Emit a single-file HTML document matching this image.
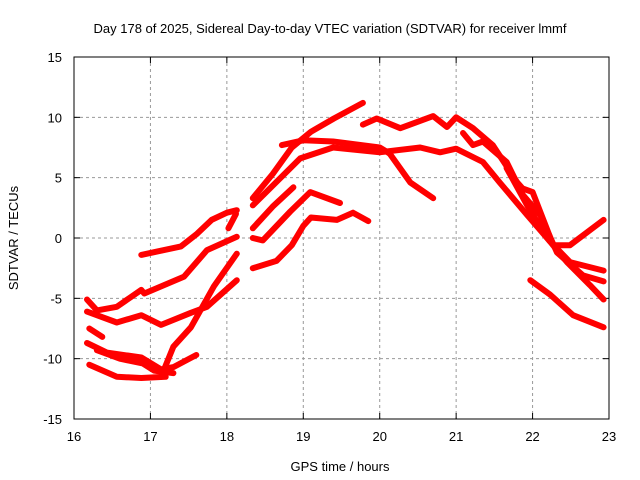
<!DOCTYPE html>
<html><head><meta charset="utf-8"><style>
body{margin:0;background:#fff}
svg{display:block;font-family:"Liberation Sans",sans-serif}
</style></head><body>
<svg id="chart" width="640" height="480" viewBox="0 0 640 480" xmlns="http://www.w3.org/2000/svg">
<rect width="640" height="480" fill="#fff"/>
<text x="330" y="33" font-size="13" text-anchor="middle">Day 178 of 2025, Sidereal Day-to-day VTEC variation (SDTVAR) for receiver lmmf</text>
<text transform="translate(18,238) rotate(-90)" font-size="13" text-anchor="middle">SDTVAR / TECUs</text>
<text x="340" y="471" font-size="13" text-anchor="middle">GPS time / hours</text>
<g id="grid"></g><g id="ticks"></g><g id="series"></g>
<rect x="74" y="57" width="535" height="362" fill="none" stroke="#000" stroke-width="1"/>
</svg>
<script>
const xTicks=[16,17,18,19,20,21,22,23];
const yTicks=[-15,-10,-5,0,5,10,15];
const s1=[[16.88,-1.4],[17.1,-1.1],[17.4,-0.7],[17.6,0.3],[17.8,1.5],[18.0,2.1],[18.13,2.3]];
const s1b=[[18.02,0.8],[18.12,2.0]];
const s2=[[16.17,-5.1],[16.3,-6.0],[16.56,-5.7],[16.88,-4.3],[16.92,-4.6],[17.44,-3.2],[17.74,-1.0],[18.13,0.1]];
const s3=[[16.17,-6.1],[16.56,-7.0],[16.88,-6.4],[17.14,-7.2],[17.53,-6.2],[17.74,-5.7],[18.13,-3.5]];
const s4=[[16.2,-7.5],[16.37,-8.2]];
const s5=[[16.17,-8.7],[16.43,-9.5],[16.88,-9.9],[17.14,-10.9],[17.3,-10.7],[17.6,-9.7]];
const s5b=[[16.3,-9.3],[16.6,-10.0],[16.9,-10.4],[17.05,-11.0],[17.3,-11.2]];
const s6=[[16.2,-10.5],[16.56,-11.5],[16.88,-11.6],[17.2,-11.5]];
const s7=[[17.14,-11.5],[17.3,-9.0],[17.53,-7.4],[17.83,-4.0],[18.13,-1.3]];
const m1=[[18.34,3.3],[18.6,5.3],[18.85,7.5],[19.1,8.8],[19.4,9.9],[19.78,11.2]];
const m1b=[[18.72,7.7],[19.0,8.1],[19.39,8.0],[20.0,7.5],[20.13,7.0]];
const m2=[[18.34,2.7],[18.96,6.6],[19.39,7.5],[20.0,7.1],[20.53,7.5],[20.79,7.1],[21.0,7.4],[21.35,6.3],[21.57,4.6],[21.93,1.9],[22.23,-0.3],[22.49,-2.0],[22.93,-2.7]];
const m2d=[[20.13,7.0],[20.4,4.6],[20.7,3.3]];
const m3a=[[18.34,0.8],[18.6,2.6],[18.87,4.2]];
const m3b=[[18.34,0.0],[18.47,-0.2],[18.83,2.2],[19.09,3.8],[19.48,2.9]];
const m4=[[18.34,-2.5],[18.65,-1.9],[18.85,-0.6],[19.0,1.0],[19.1,1.7],[19.44,1.5],[19.65,2.1],[19.85,1.4]];
const r1=[[19.78,9.4],[19.96,9.9],[20.27,9.1],[20.7,10.1],[20.88,9.2],[21.0,10.0],[21.22,9.1],[21.48,7.7],[21.8,4.6],[21.87,4.1],[22.0,3.8],[22.27,-0.6],[22.49,-0.6],[22.93,1.5]];
const r3=[[21.09,8.7],[21.22,7.7],[21.35,8.0],[21.66,6.3],[21.87,3.6],[22.1,1.9],[22.32,-1.2],[22.66,-3.1],[22.93,-3.6]];
const r4=[[21.66,5.8],[21.93,2.7],[22.19,0.0],[22.45,-2.0],[22.75,-3.9],[22.93,-5.1]];
const r5=[[21.97,-3.5],[22.23,-4.7],[22.53,-6.4],[22.93,-7.4]];
const seriesList=[s1,s1b,s2,s3,s4,s5,s5b,s6,s7,m1,m1b,m2,m2d,m3a,m3b,m4,r1,r3,r4,r5];
const X0=74,X1=609,Y0=419,Y1=57;
const xs=h=>X0+(h-16)/7*(X1-X0);
const ys=v=>Y0-(v+15)/30*(Y0-Y1);
const NS="http://www.w3.org/2000/svg";
const grid=document.getElementById('grid'),ticks=document.getElementById('ticks'),ser=document.getElementById('series');
function mk(t,a,p){const e=document.createElementNS(NS,t);for(const k in a)e.setAttribute(k,a[k]);p.appendChild(e);return e;}
xTicks.forEach(t=>{const x=xs(t);
 if(t>16&&t<23){const g=mk('line',{x1:x,x2:x,y1:Y1,y2:Y0,stroke:'#999','stroke-dasharray':'3,3'},grid);
 
 }
 const l=mk('text',{x:x,y:Y0+22,'font-size':13,'text-anchor':'middle'},ticks);l.textContent=t;
 
 
 mk('line',{x1:x,x2:x,y1:Y0,y2:Y0-6,stroke:'#000'},ticks);mk('line',{x1:x,x2:x,y1:Y1,y2:Y1+6,stroke:'#000'},ticks);});
yTicks.forEach(t=>{const y=ys(t);
 if(t>-15&&t<15){const g=mk('line',{x1:X0,x2:X1,y1:y,y2:y,stroke:'#999','stroke-dasharray':'3,3'},grid);
 
 }
 const l=mk('text',{x:X0-12,y:y+5,'font-size':13,'text-anchor':'end'},ticks);l.textContent=t;
 
 
 mk('line',{x1:X0,x2:X0+6,y1:y,y2:y,stroke:'#000'},ticks);mk('line',{x1:X1,x2:X1-6,y1:y,y2:y,stroke:'#000'},ticks);});
seriesList.forEach((s,i)=>{
 const pts=s.map(p=>xs(p[0]).toFixed(1)+','+ys(p[1]).toFixed(1)).join(' ');
 const pl=mk('polyline',{points:pts,fill:'none',stroke:'#f00','stroke-width':6,'stroke-linejoin':'round','stroke-linecap':'round'},ser);
 
 
});
</script>
</body></html>
